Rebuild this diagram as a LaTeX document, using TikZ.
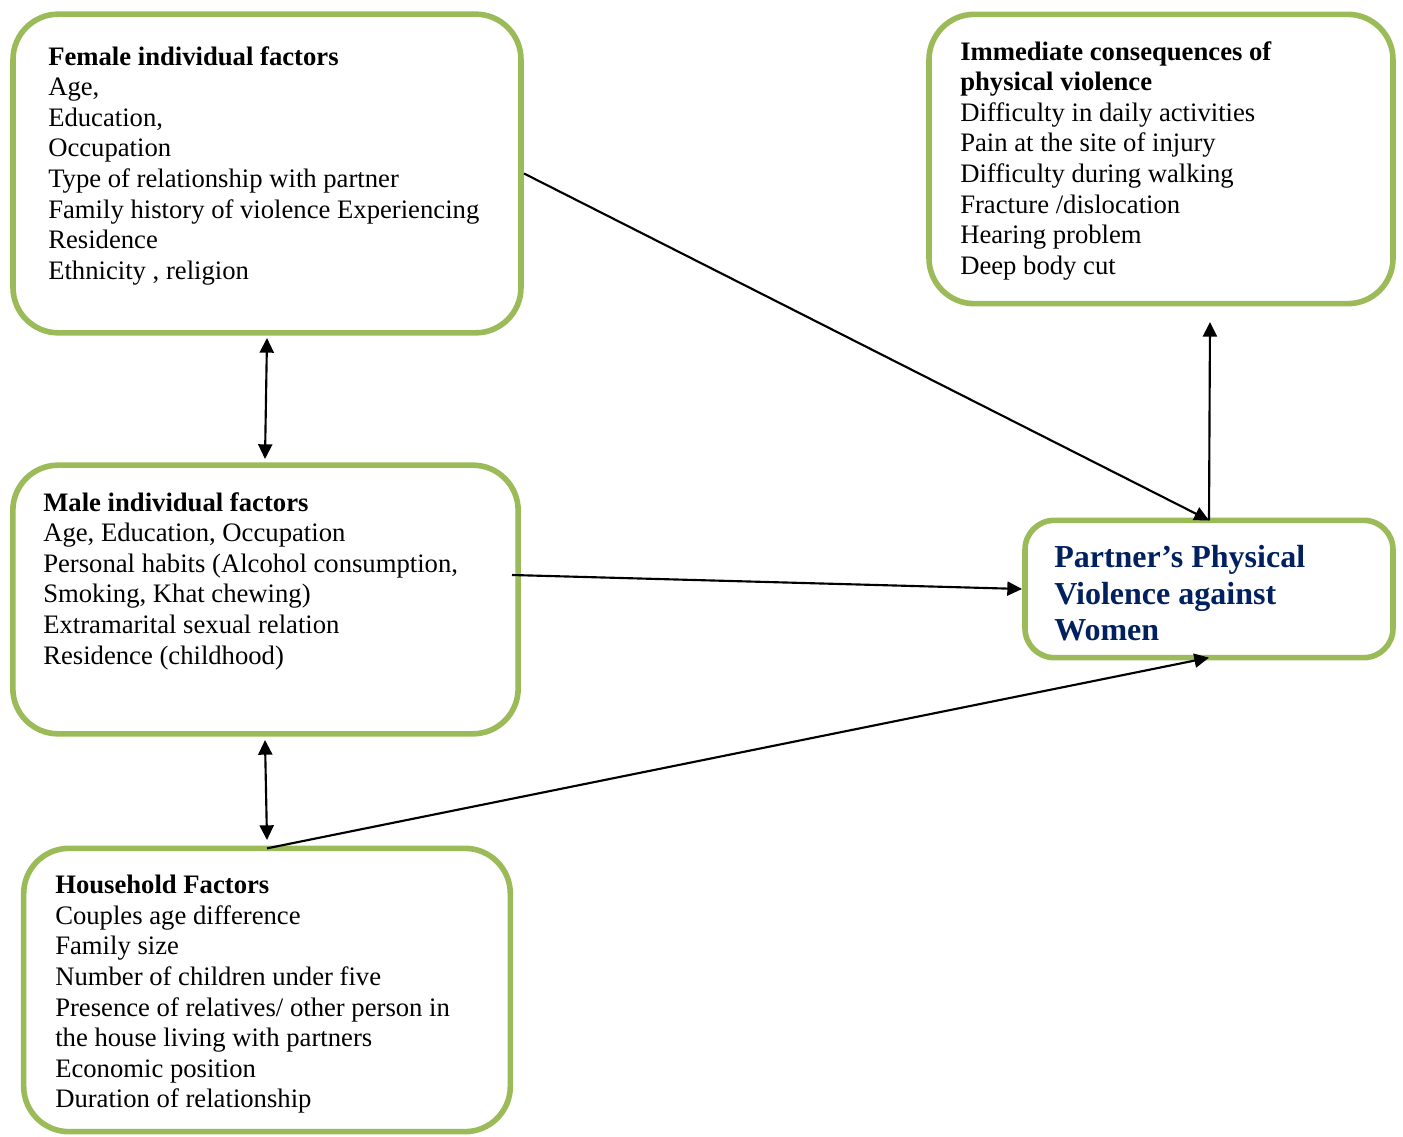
\documentclass[tikz,border=0pt]{standalone}
\usepackage{fontspec}
\setmainfont{Liberation Serif}
\usetikzlibrary{arrows.meta,calc}
\definecolor{boxgreen}{HTML}{9BBB59}
\definecolor{navy}{HTML}{002060}
\tikzset{
  box/.style={draw=boxgreen, line width=4.2pt, rounded corners=34pt, inner sep=0pt, outer sep=0pt, fill=white},
  txt/.style={anchor=north west, inner sep=0pt, align=left, font=\fontsize{20}{22.95}\selectfont},
  title/.style={anchor=north west, inner sep=0pt, align=left, text=navy, font=\fontsize{24}{27.4}\selectfont\bfseries},
  arr/.style={line width=1.6pt, -{Triangle[length=11pt,width=10.5pt]}},
  darr/.style={line width=1.6pt, {Triangle[length=11pt,width=10.5pt]}-{Triangle[length=11pt,width=10.5pt]}}
}
\begin{document}
\begin{tikzpicture}[x=0.75pt,y=-0.75pt]
\useasboundingbox (0,0) rectangle (1403,1137);
% boxes
\node[box, minimum width=381pt, minimum height=239pt] (fem) at (267,173.5) {};
\node[box, minimum width=348pt, minimum height=217pt] (imm) at (1161,159) {};
\node[box, minimum width=379pt, minimum height=201.5pt] (male) at (265.5,599.5) {};
\node[box, minimum width=276pt, minimum height=103pt, rounded corners=22pt] (pv) at (1209,589) {};
\node[box, minimum width=365pt, minimum height=212.5pt] (hh) at (267,990) {};
% texts
\node[txt] (femtxt) at (48,46) {\textbf{Female individual factors}\\Age,\\Education,\\Occupation\\Type of relationship with partner\\Family history of violence Experiencing\\Residence\\Ethnicity , religion};
\node[txt] (immtxt) at (960,41) {\textbf{Immediate consequences of}\\\textbf{physical violence}\\Difficulty in daily activities\\Pain at the site of injury\\Difficulty during walking\\Fracture /dislocation\\Hearing problem\\Deep body cut};
\node[txt] (maletxt) at (43,492) {\textbf{Male individual factors}\\Age, Education, Occupation\\Personal habits (Alcohol consumption,\\Smoking, Khat chewing)\\Extramarital sexual relation\\Residence (childhood)};
\node[txt] (hhtxt) at (55,875) {\textbf{Household Factors}\\Couples age difference\\Family size\\Number of children under five\\Presence of relatives/ other person in\\the house living with partners\\Economic position\\Duration of relationship};
\node[title] (pvtxt) at (1054,545) {Partner’s Physical\\Violence against\\Women};
% connectors
\coordinate (femS) at (267,338);
\coordinate (maleN) at (265,459);
\coordinate (maleS) at (265,740);
\coordinate (hhN) at (267,840);
\coordinate (maleE) at (512,575);
\coordinate (immS) at (1210,322);
\draw[darr] (femS) -- (maleN);
\draw[darr] (maleS) -- (hhN);
\draw[arr] (fem.east) ++(3,0) -- (pv.north);
\draw[arr] (maleE) -- ($(pv.west)+(-3,0)$);
\draw[arr] (hh.north) -- (pv.south);
\draw[arr] (pv.north) -- (immS);
\end{tikzpicture}
\end{document}
